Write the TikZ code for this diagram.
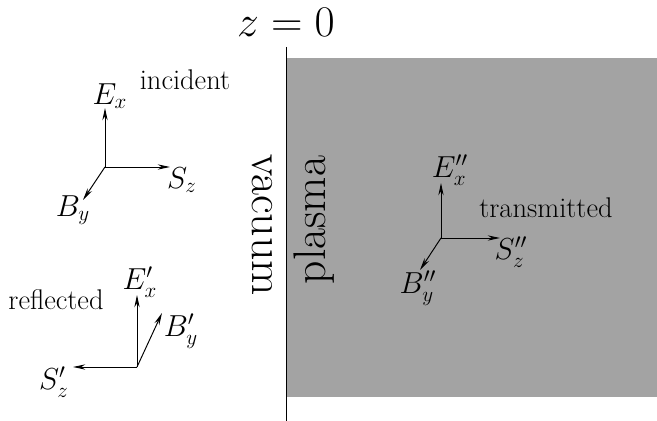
\documentclass[tikz,border=0pt]{standalone}
\usepackage{amsmath}
\usetikzlibrary{arrows.meta,positioning}
\definecolor{PlasmaGray}{RGB}{163,163,163}

\begin{document}
\begin{tikzpicture}[x=0.02cm,y=-0.02cm,font=\fontsize{16.2}{19}\selectfont,
  ax/.style={-{Stealth[length=7pt,width=3pt]},line width=0.55pt},
  vec/.style={font=\fontsize{17}{20}\selectfont},
  big/.style={font=\fontsize{26}{30}\selectfont}]
\useasboundingbox (0,0) rectangle (657,421);
% plasma region and the boundary z=0
\fill[PlasmaGray] (286,58) rectangle (657,397);
\coordinate (wallTop) at (286,47);
\coordinate (wallBot) at (286,421);
\draw[line width=0.5pt] (wallTop) -- (wallBot);
\node[font=\fontsize{23}{27}\selectfont] (zzero) at (286,22) {$z=0$};
\node[big,rotate=-90] (vac) at (262,225) {vacuum};
\node[big,rotate=90] (pla) at (314,220) {plasma};
% incident wave
\coordinate (oI) at (105,167);
\coordinate (eI) at (105,108);
\coordinate (sI) at (170,167);
\coordinate (bI) at (83,200);
\draw[ax] (oI) -- (eI);
\draw[ax] (oI) -- (sI);
\draw[ax] (oI) -- (bI);
\node[vec] (EI) at (110,96) {$E_x$};
\node[vec] (SI) at (182,180) {$S_z$};
\node[vec] (BI) at (73,210) {$B_y$};
\node (inc) at (185,80) {incident};
% reflected wave
\coordinate (oR) at (137,367);
\coordinate (eR) at (137,295);
\coordinate (sR) at (73,367);
\coordinate (bR) at (162,313);
\draw[ax] (oR) -- (eR);
\draw[ax] (oR) -- (sR);
\draw[ax] (oR) -- (bR);
\node[vec] (ER) at (140,282) {$E'_x$};
\node[vec] (BR) at (181,331) {$B'_y$};
\node[vec] (SR) at (54,382) {$S'_z$};
\node (refl) at (56,300) {reflected};
% transmitted wave
\coordinate (oT) at (441,238);
\coordinate (eT) at (441,183);
\coordinate (sT) at (500,238);
\coordinate (bT) at (420,270);
\draw[ax] (oT) -- (eT);
\draw[ax] (oT) -- (sT);
\draw[ax] (oT) -- (bT);
\node[vec] (ET) at (450,170) {$E''_x$};
\node[vec] (ST) at (511,252) {$S''_z$};
\node[vec] (BT) at (418,288) {$B''_y$};
\node (trans) at (546,208) {transmitted};
\end{tikzpicture}
\end{document}
